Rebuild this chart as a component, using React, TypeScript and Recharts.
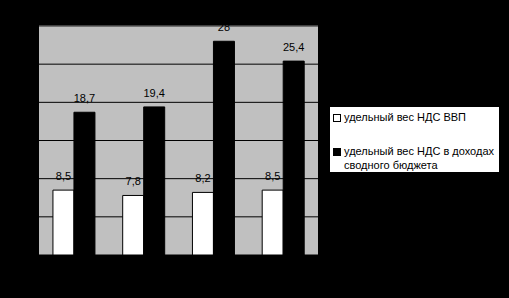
import React from 'react';
import { BarChart, Bar, XAxis, YAxis, CartesianGrid, Legend, LabelList, ReferenceLine } from 'recharts';

// categories are not readable in the picture (black on black)
const categories = ['1', '2', '3', '4'];
const vatGdp = [8.5, 7.8, 8.2, 8.5];
const vatBudget = [18.7, 19.4, 28, 25.4];
const yTicks = [5, 10, 15, 20, 25];

const seriesNames = {
  gdp: 'удельный вес НДС ВВП',
  budget: 'удельный вес НДС в доходах сводного бюджета',
};

const data = categories.map((c, i) => ({ name: c, gdp: vatGdp[i], budget: vatBudget[i] }));

const FONT = '"Liberation Sans", Arial, sans-serif';

const fmt = (v: any) => String(v).replace('.', ',');

function LegendBox() {
  const item = (fill: string, text: string, extra?: React.CSSProperties) => (
    <div style={{ display: 'flex', alignItems: 'flex-start', ...extra }}>
      <div
        style={{
          width: 6,
          height: 6,
          marginTop: 4,
          marginRight: 3,
          border: '1px solid #000',
          background: fill,
          flexShrink: 0,
        }}
      />
      <div>{text}</div>
    </div>
  );
  return (
    <div
      style={{
        width: 169,
        height: 65,
        boxSizing: 'border-box',
        background: '#fff',
        padding: '3px 2px 0 3px',
        fontFamily: FONT,
        fontSize: 11,
        lineHeight: '14px',
        color: '#000',
        textAlign: 'left',
      }}
    >
      {item('#fff', seriesNames.gdp)}
      {item('#000', seriesNames.budget, { marginTop: 20 })}
    </div>
  );
}

export default function App() {
  return (
    <div style={{ position: 'fixed', left: 0, top: 0, width: 509, height: 298, background: '#000' }}>
      <BarChart
        width={509}
        height={298}
        data={data}
        margin={{ top: 26, right: 191, bottom: 43, left: 39 }}
        barCategoryGap="20%"
        barGap={0}
      >
        <CartesianGrid vertical={false} fill="#c0c0c0" fillOpacity={1} stroke="#000" strokeOpacity={1} />
        <XAxis dataKey="name" hide />
        <YAxis hide domain={[0, 30]} ticks={yTicks} />
        <ReferenceLine y={30} stroke="#808080" />
        <Legend
          layout="vertical"
          align="center"
          verticalAlign="middle"
          wrapperStyle={{ left: 330, top: 107, width: 169, height: 65 }}
          content={() => <LegendBox />}
        />
        <Bar dataKey="gdp" name={seriesNames.gdp} fill="#fff" stroke="#000" strokeWidth={1} isAnimationActive={false}>
          <LabelList dataKey="gdp" position="top" offset={10} formatter={fmt} fill="#000" fontSize={11} fontFamily={FONT} />
        </Bar>
        <Bar dataKey="budget" name={seriesNames.budget} fill="#000" stroke="#000" strokeWidth={1} isAnimationActive={false}>
          <LabelList dataKey="budget" position="top" offset={10} formatter={fmt} fill="#000" fontSize={11} fontFamily={FONT} />
        </Bar>
      </BarChart>
    </div>
  );
}
